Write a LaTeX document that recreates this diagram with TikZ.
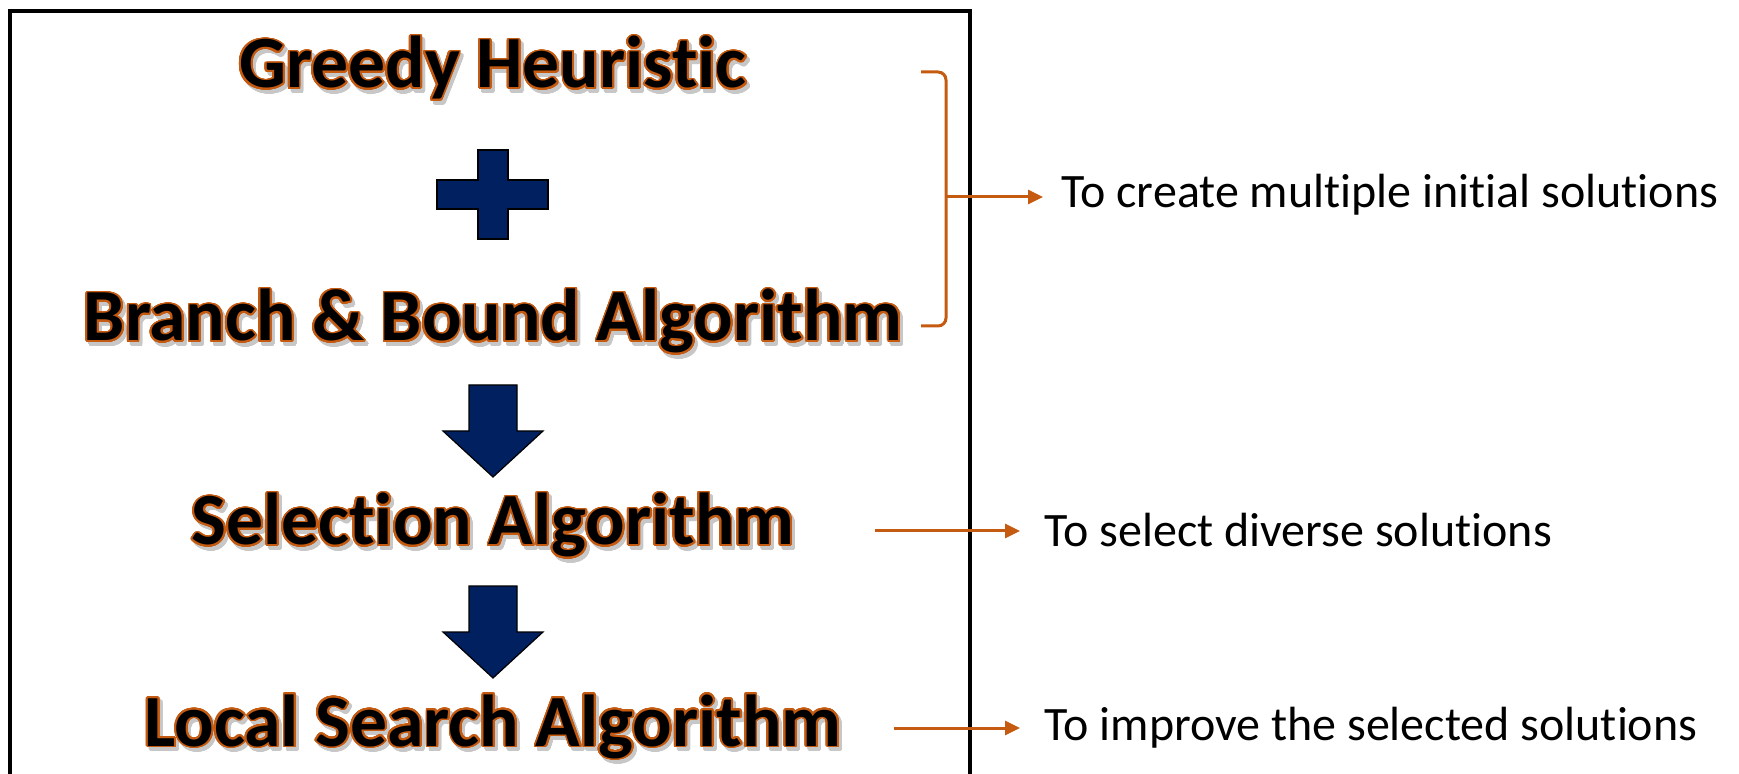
\documentclass[tikz,border=0pt]{standalone}
\usepackage{fontspec}
\setmainfont{Carlito}[Ligatures={NoCommon,NoContextual}]
\usepackage{contour}
\usetikzlibrary{arrows.meta}

\definecolor{burnt}{HTML}{C55A11}
\definecolor{navy}{HTML}{002060}
\contourlength{0.9pt}
\contournumber{32}

% outlined stage text with a soft drop shadow
\newcommand{\stagetext}[1]{\rlap{\hspace{1.5pt}\raisebox{-1.8pt}{\color{black!22}\contour{black!22}{#1}}}\contour{burnt}{#1}}

\tikzset{
  stage/.style={font=\fontsize{36.8}{41}\selectfont\bfseries, anchor=base, inner sep=0pt},
  note/.style={font=\fontsize{24}{28}\selectfont, anchor=base west, inner sep=0pt},
  link/.style={draw=burnt, line width=1.5pt, -{Triangle[length=7.5pt,width=7pt]}},
  flow/.style={fill=navy, draw=black, line width=0.6pt}
}

\begin{document}
\begin{tikzpicture}[x=0.5pt, y=-0.5pt]
  \useasboundingbox (0,0) rectangle (1739,774);

  % frame, open at the bottom
  \draw[line width=2pt] (10,800) -- (10,11) -- (970,11) -- (970,800);

  \node[stage] (greedy) at (493,88) {\stagetext{Greedy Heuristic}};
  \node[stage] (bnb) at (493,341) {\stagetext{Branch \& Bound Algorithm}};
  \node[stage] (select) at (493,545) {\stagetext{Selection Algorithm}};
  \node[stage] (local) at (493,746) {\stagetext{Local Search Algorithm}};

  % plus sign
  \draw[flow] (478,150) -- (508,150) -- (508,180) -- (548,180) -- (548,209) -- (508,209)
    -- (508,239) -- (478,239) -- (478,209) -- (437,209) -- (437,180) -- (478,180) -- cycle;

  % down arrows
  \foreach \t in {385,586}
    \draw[flow] (469,\t) -- (517,\t) -- (517,\t+46) -- (543,\t+46) -- (493,\t+92)
      -- (443,\t+46) -- (469,\t+46) -- cycle;

  \node[note] (initnote) at (1061,208) {To create multiple initial solutions};
  \node[note] (selnote) at (1044,546) {To select diverse solutions};
  \node[note] (localnote) at (1044,740) {To improve the selected solutions};

  \coordinate (brtop) at (921,72);
  \coordinate (brbot) at (921,326);
  \coordinate (brmid) at (946,197);
  \coordinate (selout) at (875,531);
  \coordinate (localout) at (894,728);

  \draw[burnt, line width=1.5pt, rounded corners=4pt] (brtop) -- ++(25,0) |- (brbot);
  \draw[link, shorten >=9pt] (brmid) -- (brmid -| initnote.west);
  \draw[link, shorten >=12pt] (selout) -- (selout -| selnote.west);
  \draw[link, shorten >=12pt] (localout) -- (localout -| localnote.west);
\end{tikzpicture}
\end{document}
